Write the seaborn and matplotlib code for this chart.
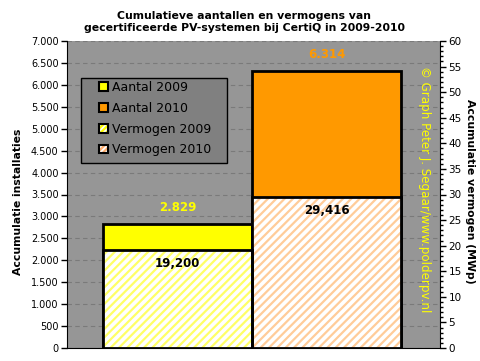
import matplotlib
matplotlib.use("Agg")
import matplotlib.pyplot as plt
import seaborn as sns
import pandas as pd
from matplotlib.patches import Patch, Rectangle
from matplotlib.legend_handler import HandlerTuple
from matplotlib.ticker import MultipleLocator, FuncFormatter

# ---- data ----
years = ["2009", "2010"]
aantal = [2829, 6314]                 # cumulative number of installations
vermogen_mwp = [19.200, 29.416]       # cumulative power, MWp
aantal_labels = ["2.829", "6.314"]
vermogen_labels = ["19,200", "29,416"]
legend_labels = ["Aantal 2009", "Aantal 2010", "Vermogen 2009", "Vermogen 2010"]

aantal_colors = ["#FFFF00", "#FF9900"]
hatch_colors = ["#FFFF66", "#FFCC99"]
label_colors = ["#FFFF00", "#FF9900"]

sns.set_style("white")
plt.rcParams["font.family"] = ["DejaVu Sans"]
plt.rcParams["hatch.linewidth"] = 1.6
plt.rcParams["text.color"] = "black"
plt.rcParams["axes.labelcolor"] = "black"
plt.rcParams["xtick.color"] = "black"
plt.rcParams["ytick.color"] = "black"

fig = plt.figure(figsize=(4.81, 3.61), dpi=100)
fig.patch.set_facecolor("white")
ax = fig.add_axes([67/481, 1-348/361, (440-67)/481, (348-41)/361])
ax.set_facecolor("#969696")

df_a = pd.DataFrame({"jaar": years, "aantal": aantal})
df_v = pd.DataFrame({"jaar": years, "vermogen": vermogen_mwp})

sns.barplot(data=df_a, x="jaar", y="aantal", hue="jaar", palette=aantal_colors,
            legend=False, width=1.0, saturation=1, edgecolor="black",
            linewidth=2, ax=ax, zorder=2)

ax2 = ax.twinx()
sns.barplot(data=df_v, x="jaar", y="vermogen", hue="jaar", palette=["white", "white"],
            legend=False, width=1.0, saturation=1, ax=ax2, zorder=2)
for p, hc in zip(list(ax2.patches), hatch_colors):
    p.set_hatch("////")
    p.set_edgecolor(hc)
    p.set_linewidth(0)
    ax2.add_patch(Rectangle((p.get_x(), p.get_y()), p.get_width(), p.get_height(),
                            fill=False, edgecolor="black", linewidth=2, zorder=3))

ax.set_ylim(0, 7000)
ax2.set_ylim(0, 60)
ax.set_xlim(-0.74, 1.76)
ax2.set_xlim(-0.74, 1.76)

# grid
ax.yaxis.set_major_locator(MultipleLocator(500))
ax.grid(axis="y", color="#7a7a7a", linestyle=(0, (4, 3)), linewidth=0.8, zorder=0)
ax.set_axisbelow(True)
ax.yaxis.set_major_formatter(FuncFormatter(lambda v, p: f"{int(v):,}".replace(",", ".")))

ax2.yaxis.set_major_locator(MultipleLocator(5))
ax2.yaxis.set_minor_locator(MultipleLocator(1))

for a in (ax, ax2):
    a.set_xlabel("")
    a.set_ylabel("")
    a.set_xticks([])
    for s in a.spines.values():
        s.set_visible(False)
ax.spines["left"].set_visible(True)
ax.spines["left"].set_color("black")
ax.spines["bottom"].set_visible(True)
ax.spines["bottom"].set_color("black")
ax2.spines["right"].set_visible(True)
ax2.spines["right"].set_color("black")

ax.tick_params(axis="y", which="major", direction="out", length=4, width=1,
               color="black", labelcolor="black", labelsize=7, pad=2)
ax2.tick_params(axis="y", which="major", direction="out", length=4, width=1,
                color="black", labelcolor="black", labelsize=7.5, pad=2)
ax2.tick_params(axis="y", which="minor", direction="out", length=2, width=1, color="black")

# value labels
for i, (v, lab, c) in enumerate(zip(aantal, aantal_labels, label_colors)):
    ax.annotate(lab, (i, v), xytext=(0, 7.5), textcoords="offset points",
                ha="center", va="bottom", color=c, fontsize=8.5, fontweight="bold")
for i, (v, lab) in enumerate(zip(vermogen_mwp, vermogen_labels)):
    ax2.annotate(lab, (i, v), xytext=(0, -5), textcoords="offset points",
                 ha="center", va="top", color="black", fontsize=8.5, fontweight="bold",
                 zorder=5)

# legend box (drawn separately) + frameless legend
def ax_xy(px, py):
    return (px - 67) / 373, (348 - py) / 307

bx0, by0 = ax_xy(81, 163)
bx1, by1 = ax_xy(227, 78)
ax2.add_patch(Rectangle((bx0, by0), bx1 - bx0, by1 - by0, transform=ax2.transAxes,
                        facecolor="#808080", edgecolor="black", linewidth=1, zorder=8))

handles = [
    Patch(facecolor=aantal_colors[0], edgecolor="black", linewidth=1.5),
    Patch(facecolor=aantal_colors[1], edgecolor="black", linewidth=1.5),
    (Patch(facecolor="white", edgecolor="#FFFF00", hatch="//////", linewidth=0),
     Patch(fill=False, edgecolor="black", linewidth=1.5)),
    (Patch(facecolor="white", edgecolor="#FFB070", hatch="//////", linewidth=0),
     Patch(fill=False, edgecolor="black", linewidth=1.5)),
]
lx, ly = ax_xy(99, 81)
leg = ax2.legend(handles, legend_labels, handler_map={tuple: HandlerTuple(ndivide=1)},
                 loc="upper left", bbox_to_anchor=(lx, ly),
                 fontsize=9, frameon=False, handlelength=0.7, handleheight=0.7,
                 handletextpad=0.35, labelspacing=0.62, borderpad=0.0,
                 borderaxespad=0)
leg.set_zorder(10)
for t in leg.get_texts():
    t.set_color("black")

# texts
fig.text(0.508, 1-22/361, "Cumulatieve aantallen en vermogens van\ngecertificeerde PV-systemen bij CertiQ in 2009-2010",
         ha="center", va="center", fontsize=7.8, fontweight="bold", linespacing=1.15, color="black")
fig.text(18/481, 1-202/361, "Accumulatie installaties", rotation=90, ha="center", va="center",
         fontsize=7.8, fontweight="bold", color="black")
fig.text(470/481, 1-191/361, "Accumulatie vermogen (MWp)", rotation=-90, ha="center", va="center",
         fontsize=7.8, fontweight="bold", color="black")
fig.text(425/481, 1-189/361, "© Graph Peter J. Segaar/www.polderpv.nl", rotation=-90,
         ha="center", va="center", fontsize=8.6, color="#FFFF00")

fig.savefig("out.png", dpi=100)
